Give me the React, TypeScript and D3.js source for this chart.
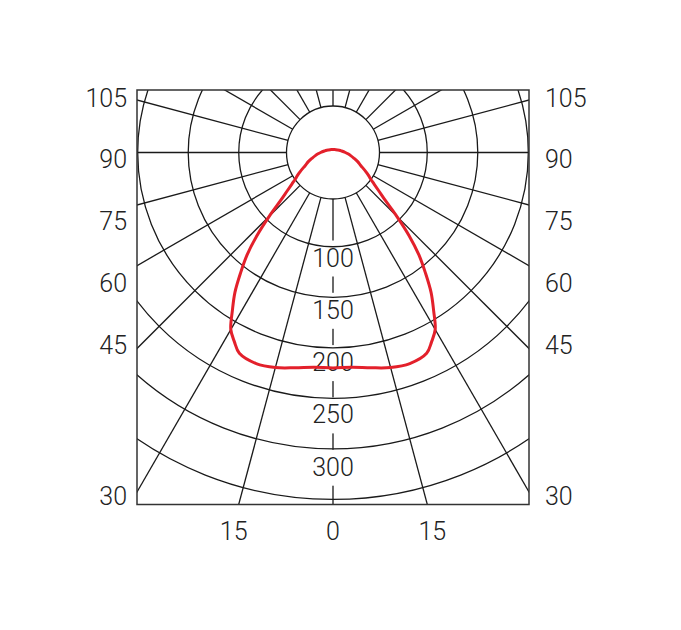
import React from 'react';
import * as d3 from 'd3';

const W = 681;
const H = 630;

// grid rings (cd) and labels along 0°
const ringValues = [100, 150, 200, 250, 300, 350];
const ringLabels = [100, 150, 200, 250, 300];
// spoke angles (degrees from nadir)
const spokeAngles = [0, 15, 30, 45, 60, 75, 90, 105, 120, 135, 150, 165, 180, 195, 210, 225, 240, 255, 270, 285, 300, 315, 330, 345];
// side angle labels
const sideLabels = [105, 90, 75, 60, 45];
const cornerLabel = 30;
const bottomLabels = [-15, 0, 15];

// luminous intensity half-profile (degrees from nadir -> cd)
const curveAngles = [0, 5, 10, 15, 20, 25, 27.5, 30, 32.5, 35, 37.5, 40, 42.5, 45, 47.5, 50, 52.5, 55, 57.5, 60, 65, 70, 75, 80, 85, 90, 100, 110, 120, 135, 150, 165, 180];
const curveValues = [220, 220, 223, 227, 229, 226, 218, 209, 192, 176, 157, 139, 118, 96, 77, 66, 58, 52, 48, 44, 37, 32.5, 28, 24.5, 21.6, 19, 15.4, 13.4, 11.9, 10.7, 10.1, 9.8, 9.7];

export default function App() {
  const frame = { x0: 137, x1: 529, y0: 90, y1: 504.5 };
  const cx = (frame.x0 + frame.x1) / 2;
  const cy = 152.5;
  const innerR = 46.5;
  const rScale = d3.scaleLinear().domain([100, 350]).range([94.25, 346.9]);
  const labelY = d3.scaleLinear().domain([100, 300]).range([257.5, 466.7]);
  const sideY = d3.scaleLinear().domain([105, 45]).range([97.5, 345]);
  const toRad = (d: number) => (d * Math.PI) / 180;

  const fontSize = 25;
  const font = 'Roboto, "Liberation Sans", Arial, sans-serif';
  const textColor = '#222';
  const gridColor = '#1a1a1a';

  // full closed profile, mirrored on both sides
  const pts: { a: number; v: number }[] = [
    ...curveAngles.map((a, i) => ({ a, v: curveValues[i] })),
    ...curveAngles
      .slice(1, -1)
      .map((a, i) => ({ a: -a, v: curveValues[i + 1] }))
      .reverse(),
  ];

  const radial = d3
    .lineRadial<{ a: number; v: number }>()
    .angle((d) => Math.PI - toRad(d.a))
    .radius((d) => rScale(d.v))
    .curve(d3.curveCatmullRomClosed.alpha(0.5));

  const tan15 = Math.tan(toRad(15));
  const bottomX = (a: number) =>
    a === 0 ? cx : cx + Math.sign(a) * ((frame.y1 - cy) * tan15 + 5);

  return (
    <svg width={W} height={H} style={{ position: 'absolute', left: 0, top: 0, background: '#fff' }}>
      <defs>
        <clipPath id="frameClip">
          <rect x={frame.x0} y={frame.y0} width={frame.x1 - frame.x0} height={frame.y1 - frame.y0} />
        </clipPath>
      </defs>
      <rect width={W} height={H} fill="#fff" />
      <g clipPath="url(#frameClip)">
        {spokeAngles.map((a) => {
          const s = Math.sin(toRad(a));
          const c = Math.cos(toRad(a));
          return (
            <line
              key={a}
              x1={cx + innerR * s}
              y1={cy + innerR * c}
              x2={cx + 700 * s}
              y2={cy + 700 * c}
              stroke={gridColor}
              strokeWidth={1.3}
            />
          );
        })}
        {ringLabels.map((v) => (
          <rect key={'bg' + v} x={cx - 22} y={labelY(v) - 17} width={44} height={36} fill="#fff" />
        ))}
        {ringValues.map((v) => (
          <circle key={v} cx={cx} cy={cy} r={rScale(v)} fill="none" stroke={gridColor} strokeWidth={1.3} />
        ))}
        <circle cx={cx} cy={cy} r={innerR} fill="#fff" stroke={gridColor} strokeWidth={1.3} />
      </g>
      <rect
        x={frame.x0}
        y={frame.y0}
        width={frame.x1 - frame.x0}
        height={frame.y1 - frame.y0}
        fill="none"
        stroke="#333"
        strokeWidth={1.5}
      />
      <g fontFamily={font} fontSize={fontSize} fontWeight={300} fill={textColor}>
        {ringLabels.map((v) => (
          <text key={'l' + v} x={cx} y={labelY(v) + fontSize * 0.36} textAnchor="middle">
            {v}
          </text>
        ))}
        {sideLabels.map((a) => (
          <g key={'s' + a}>
            <text x={frame.x0 - 10} y={sideY(a) + fontSize * 0.36} textAnchor="end">
              {a}
            </text>
            <text x={frame.x1 + 16} y={sideY(a) + fontSize * 0.36} textAnchor="start">
              {a}
            </text>
          </g>
        ))}
        <text x={frame.x0 - 10} y={frame.y1 - 8.7 + fontSize * 0.36} textAnchor="end">
          {cornerLabel}
        </text>
        <text x={frame.x1 + 16} y={frame.y1 - 8.7 + fontSize * 0.36} textAnchor="start">
          {cornerLabel}
        </text>
        {bottomLabels.map((a) => (
          <text key={'b' + a} x={bottomX(a)} y={531 + fontSize * 0.36} textAnchor="middle">
            {Math.abs(a)}
          </text>
        ))}
      </g>
      <path
        d={radial(pts) || ''}
        transform={`translate(${cx},${cy})`}
        fill="none"
        stroke="#e3202b"
        strokeWidth={3}
        strokeLinejoin="round"
      />
    </svg>
  );
}
